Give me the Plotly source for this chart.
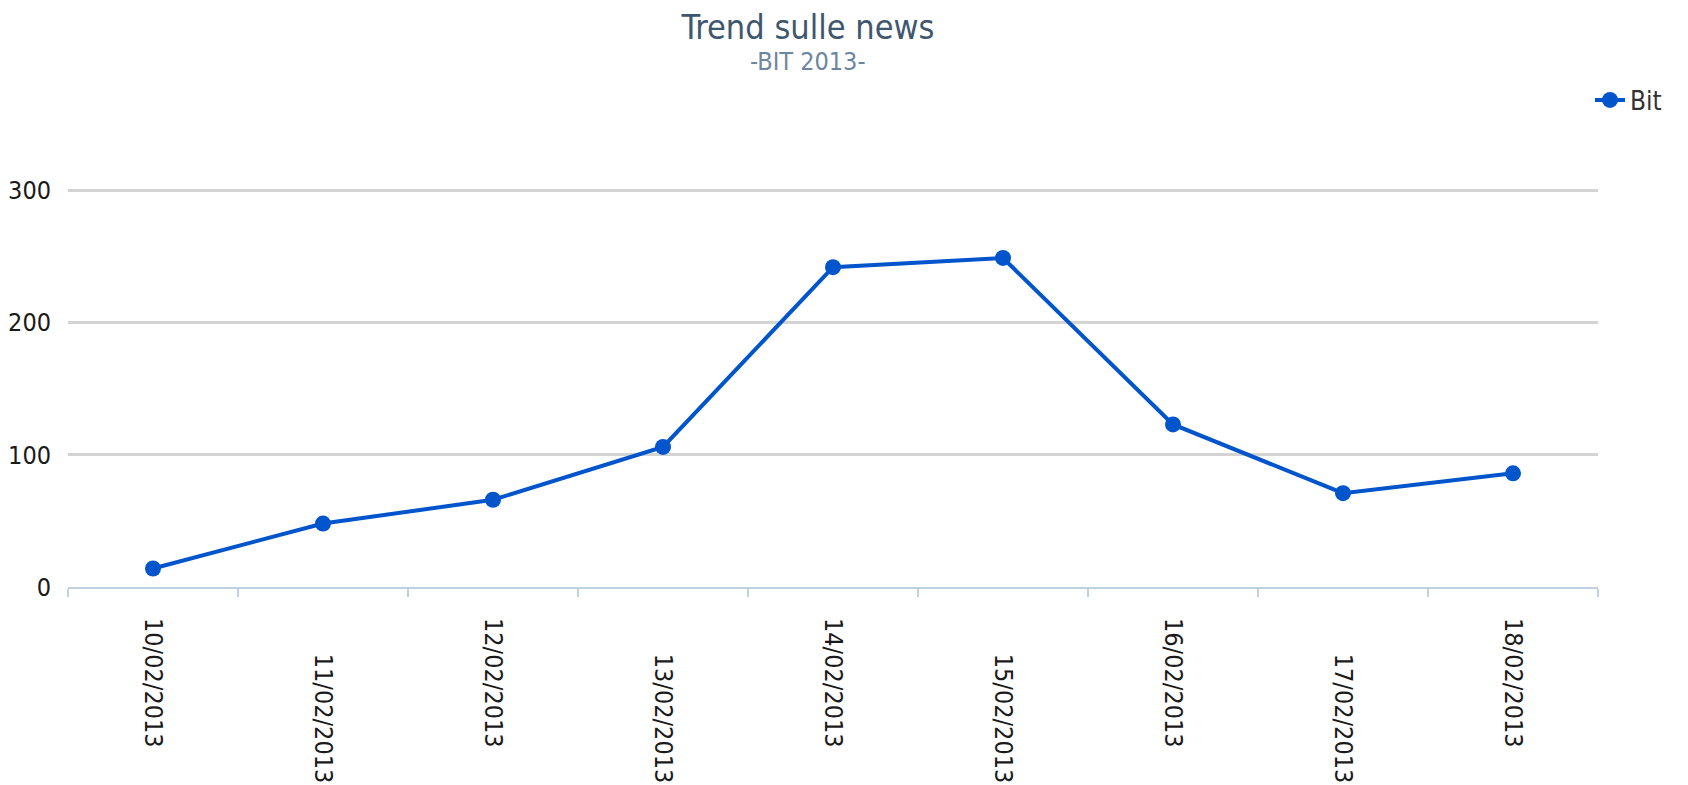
import plotly.graph_objects as go

categories = ["10/02/2013", "11/02/2013", "12/02/2013", "13/02/2013", "14/02/2013",
              "15/02/2013", "16/02/2013", "17/02/2013", "18/02/2013"]
values = [14, 48, 66, 106, 242, 249, 123, 71, 86]
series_name = "Bit"
title_text = "Trend sulle news"
subtitle_text = "-BIT 2013-"
y_ticks = [0, 100, 200, 300]

FONT = "DejaVu Sans Condensed, DejaVu Sans, sans-serif"
NB = "\u00a0"
# staggered tick labels (every second label shifted down)
tick_text = [c if i % 2 == 0 else NB * 5 + c for i, c in enumerate(categories)]

W, H = 1680, 777          # page body has an 8px margin
PLOT_TOP, PLOT_BOTTOM = 177, 579
PLOT_H = PLOT_BOTTOM - PLOT_TOP

fig = go.Figure()
fig.add_trace(go.Scatter(
    x=categories, y=values, name=series_name, mode="lines+markers",
    line=dict(color="#0055CC", width=4),
    marker=dict(color="#0055CC", size=16),
))

fig.update_layout(
    width=W, height=H,
    margin=dict(l=60, r=90, t=PLOT_TOP, b=H - PLOT_BOTTOM, autoexpand=False),
    paper_bgcolor="white", plot_bgcolor="white",
    font=dict(family=FONT, color="#333333"),
    title=dict(text=title_text, x=800 / W, xanchor="center", y=1 - 19 / H, yanchor="middle",
               font=dict(family=FONT, size=34, color="#3E576F")),
    showlegend=True,
    legend=dict(x=1 - 8 / 1530, xanchor="left", y=(PLOT_BOTTOM - 92) / PLOT_H, yanchor="middle",
                font=dict(family=FONT, size=26, color="#333333"),
                bgcolor="rgba(0,0,0,0)", itemwidth=30),
    xaxis=dict(
        type="category", tickmode="array", tickvals=categories, ticktext=tick_text,
        tickangle=90, tickson="boundaries", ticks="outside", ticklen=8, tickwidth=2,
        tickcolor="#C0D0E0", showline=True, linecolor="#C0D0E0", linewidth=2,
        showgrid=False, ticklabelstandoff=24, automargin=False,
        tickfont=dict(family=FONT, size=25, color="#1a1a1a"),
        range=[-0.5, len(categories) - 0.5], fixedrange=True,
    ),
    yaxis=dict(
        range=[0, 304.2], tickmode="array", tickvals=y_ticks, automargin=False,
        showgrid=True, gridcolor="#D4D4D4", gridwidth=2.5, zeroline=False,
        showline=False, ticks="", ticklabelstandoff=16,
        tickfont=dict(family=FONT, size=25, color="#1a1a1a"),
    ),
    annotations=[dict(text=subtitle_text, xref="paper", yref="paper", x=(800 - 60) / 1530,
                      y=(PLOT_BOTTOM - 53) / PLOT_H, xanchor="center", yanchor="middle",
                      showarrow=False,
                      font=dict(family=FONT, size=25, color="#6D869F"))],
)
fig.write_html("out.html")
